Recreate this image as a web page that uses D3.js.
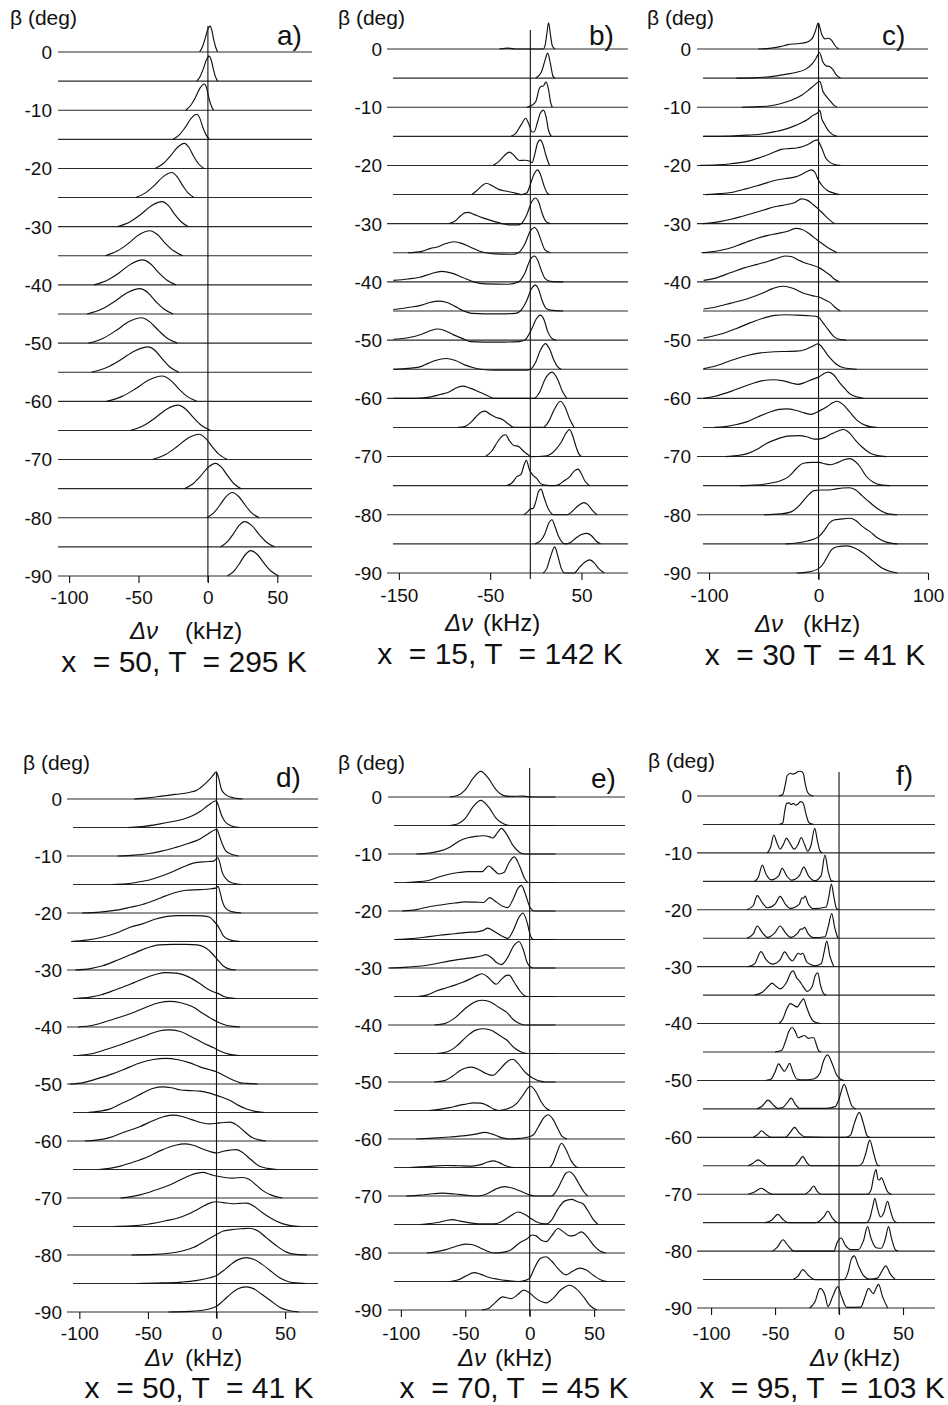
<!DOCTYPE html>
<html><head><meta charset="utf-8">
<script src="https://cdn.jsdelivr.net/npm/d3@7"></script>
<style>
body{margin:0;background:#fff}
svg{display:block}
text{font-family:"Liberation Sans",Arial,Helvetica,sans-serif;fill:#111}
</style></head>
<body><svg id="chart" width="948" height="1405"></svg>
<script>
// ---------------- DATA ----------------
const betas = [0,-5,-10,-15,-20,-25,-30,-35,-40,-45,-50,-55,-60,-65,-70,-75,-80,-85,-90];
const yTickLabels = [0,-10,-20,-30,-40,-50,-60,-70,-80,-90];
const xTicksA = [-100,-50,0,50];
const xTicksB = [-150,-50,50];
const xTicksC = [-100,0,100];
const xTicksDEF = [-100,-50,0,50];
const panelLetters = ["a)","b)","c)","d)","e)","f)"];
const panelTitles = ["x  = 50, T  = 295 K","x  = 15, T  = 142 K","x  = 30 T  = 41 K","x  = 50, T  = 41 K","x  = 70, T  = 45 K","x  = 95, T  = 103 K"];
const axisUnit = "(kHz)";
const axisSym = "Δν";
const yAxisName = "β (deg)";

// each trace: [Δν kHz, height in units of trace spacing]
const specA = [
[[-6,0],[-3.9,0.18],[-2.1,0.44],[-0.3,0.75],[1.5,0.89],[2.8,0.75],[4.1,0.44],[5.5,0.18],[7,0]],
[[-8,0],[-5.5,0.17],[-3.3,0.42],[-1.2,0.72],[1,0.86],[2.4,0.72],[3.9,0.42],[5.3,0.17],[7,0]],
[[-16,0],[-12.2,0.18],[-9,0.44],[-5.7,0.76],[-2.5,0.9],[-0.9,0.76],[0.6,0.44],[2.2,0.18],[4,0]],
[[-25,0],[-20.2,0.17],[-16.2,0.42],[-12.1,0.72],[-8,0.86],[-5.8,0.72],[-3.7,0.42],[-1.5,0.17],[1,0]],
[[-38,0],[-32.1,0.17],[-27.1,0.42],[-22,0.72],[-17,0.86],[-13.6,0.72],[-10.3,0.42],[-6.9,0.17],[-3,0]],
[[-52,0],[-44.7,0.17],[-38.5,0.42],[-32.2,0.72],[-26,0.86],[-22.2,0.72],[-18.3,0.42],[-14.5,0.17],[-10,0]],
[[-65,0],[-56,0.17],[-48.4,0.42],[-40.7,0.72],[-33,0.86],[-28.4,0.72],[-23.9,0.42],[-19.3,0.17],[-14,0]],
[[-74,0],[-65,0.17],[-57.4,0.42],[-49.7,0.72],[-42,0.86],[-36.2,0.72],[-30.5,0.42],[-24.7,0.17],[-18,0]],
[[-82,0],[-72.2,0.17],[-63.8,0.42],[-55.4,0.72],[-47,0.86],[-41.2,0.72],[-35.5,0.42],[-29.7,0.17],[-23,0]],
[[-87,0],[-76.4,0.17],[-67.2,0.43],[-58.1,0.73],[-49,0.87],[-43.2,0.73],[-37.5,0.43],[-31.7,0.17],[-25,0]],
[[-86,0],[-75.4,0.17],[-66.2,0.43],[-57.1,0.73],[-48,0.87],[-41.8,0.73],[-35.5,0.43],[-29.3,0.17],[-22,0]],
[[-84,0],[-72.5,0.17],[-62.7,0.43],[-52.8,0.73],[-43,0.87],[-37.7,0.73],[-32.4,0.43],[-27.2,0.17],[-21,0]],
[[-73,0],[-61.8,0.17],[-52.2,0.43],[-42.6,0.73],[-33,0.87],[-27,0.73],[-21,0.43],[-15,0.17],[-8,0]],
[[-56,0],[-46.3,0.17],[-38,0.43],[-29.8,0.73],[-21.5,0.87],[-15.9,0.73],[-10.2,0.43],[-4.6,0.17],[2,0]],
[[-40,0],[-30.6,0.17],[-22.6,0.43],[-14.5,0.73],[-6.5,0.87],[-1.6,0.73],[3.3,0.43],[8.3,0.17],[14,0]],
[[-17,0],[-10.7,0.17],[-5.3,0.43],[0.1,0.73],[5.5,0.87],[9.9,0.73],[14.4,0.43],[18.8,0.17],[24,0]],
[[-1,0],[4.2,0.17],[8.6,0.43],[13.1,0.73],[17.5,0.87],[22.2,0.73],[26.9,0.43],[31.5,0.17],[37,0]],
[[9,0],[13.9,0.17],[18.1,0.43],[22.3,0.73],[26.5,0.87],[31.7,0.73],[36.8,0.43],[42,0.17],[48,0]],
[[14,0],[18.8,0.17],[22.8,0.43],[26.9,0.73],[31,0.87],[35.8,0.73],[40.6,0.43],[45.4,0.17],[51,0]]
];

const specB = [
[[-40,0],[-30,0.03],[-22,0],[8,0],[10,0.1],[12,0.5],[14,0.9],[16,0.5],[18,0.12],[21,0]],
[[0,0],[6,0.2],[10,0.6],[13,0.86],[16,0.5],[19,0.05],[21,0]],
[[-10,0],[-5,0.05],[0,0.2],[4,0.65],[6,0.72],[8,0.72],[11,0.86],[14,0.6],[16,0.2],[18,0]],
[[-27,0],[-22,0.1],[-16,0.4],[-11,0.62],[-8,0.45],[-4,0.15],[-2,0.15],[2,0.5],[5,0.8],[8.5,0.9],[11,0.7],[14,0.2],[17,0]],
[[-47,0],[-40,0.15],[-34,0.35],[-29,0.46],[-24,0.35],[-18,0.17],[-12,0.18],[-7,0.15],[-4,0.1],[-1,0.4],[2,0.78],[5,0.88],[8,0.7],[11,0.35],[15,0]],
[[-70,0],[-64,0.15],[-58,0.33],[-54,0.39],[-48,0.3],[-40,0.17],[-33,0.12],[-25,0.07],[-16,0],[-10,0.05],[-6,0.35],[-2,0.7],[2,0.85],[5,0.7],[9,0.3],[12,0.08],[15,0]],
[[-95,0],[-88,0.1],[-82,0.28],[-78,0.37],[-74,0.39],[-68,0.32],[-58,0.2],[-46,0.08],[-37,0],[-30,-0.04],[-20,-0.04],[-16,0],[-10,0.3],[-4,0.78],[-0.5,0.88],[3,0.75],[7,0.35],[11,0.08],[16,0]],
[[-140,0],[-125,0.05],[-115,0.15],[-108,0.2],[-100,0.3],[-90,0.38],[-82,0.33],[-72,0.2],[-62,0.06],[-55,0],[-45,-0.04],[-25,-0.05],[-19,0],[-12,0.3],[-6,0.75],[-1.5,0.87],[2,0.75],[6,0.4],[10,0.1],[16,0]],
[[-156,0.05],[-140,0.1],[-127,0.16],[-115,0.28],[-103,0.36],[-92,0.3],[-80,0.15],[-68,0],[-55,-0.07],[-30,-0.08],[-19,0],[-12,0.3],[-6,0.77],[-1.5,0.89],[2,0.75],[6,0.4],[10,0.12],[16,0.02],[30,0]],
[[-156,0.05],[-140,0.12],[-125,0.2],[-115,0.3],[-107,0.34],[-98,0.3],[-88,0.15],[-80,0.02],[-70,-0.08],[-40,-0.1],[-22,-0.08],[-17,0],[-10,0.35],[-5,0.75],[-0.5,0.89],[3,0.75],[7,0.35],[11,0.1],[16,0.03],[30,0]],
[[-156,0.03],[-140,0.08],[-125,0.2],[-115,0.33],[-108,0.38],[-100,0.33],[-90,0.18],[-80,0.05],[-72,-0.05],[-40,-0.07],[-18,-0.05],[-12,0],[-5,0.35],[1,0.75],[5,0.86],[9,0.7],[13,0.3],[17,0.08],[22,0]],
[[-156,0],[-140,0.03],[-127,0.08],[-118,0.2],[-110,0.3],[-98,0.37],[-88,0.3],[-78,0.15],[-68,0.05],[-60,0],[-45,-0.03],[-10,-0.03],[-6,0],[0,0.25],[5,0.65],[10.5,0.88],[15,0.7],[20,0.3],[24,0.08],[28,0]],
[[-156,0],[-130,0],[-115,0.05],[-105,0.13],[-95,0.22],[-86,0.37],[-80,0.42],[-72,0.35],[-62,0.22],[-52,0.08],[-46,0],[-30,0],[-2,0],[4,0.2],[10,0.65],[17.8,0.9],[24,0.65],[29,0.25],[34,0]],
[[-85,0],[-78,0.03],[-72,0.15],[-66,0.35],[-60,0.52],[-55.5,0.56],[-50,0.45],[-44,0.35],[-37,0.28],[-30,0.12],[-24,0],[8,0],[14,0.2],[20,0.6],[27,0.9],[32,0.7],[37,0.3],[42,0]],
[[-55,0],[-48,0.2],[-42,0.5],[-36,0.72],[-33,0.75],[-29,0.55],[-24,0.38],[-19,0.35],[-14,0.2],[-8,0.05],[-5,0],[10,0.02],[16,0.08],[22,0.25],[28,0.5],[33,0.8],[37,0.93],[40,0.75],[44,0.35],[47,0.1],[50,0]],
[[-32,0],[-26,0.1],[-21,0.3],[-16,0.4],[-13,0.7],[-10.4,0.87],[-7,0.55],[-3,0.35],[1,0.25],[5,0.08],[10,0.02],[20,0],[26,0.05],[31,0.17],[37,0.3],[42,0.5],[46.4,0.57],[50,0.4],[54,0.15],[59,0]],
[[-13,0],[-9,0.1],[-6,0.2],[-3,0.22],[0,0.45],[3,0.8],[5.7,0.88],[9,0.6],[13,0.25],[17,0.05],[20,0],[34,0],[40,0.12],[46,0.3],[52.5,0.42],[57,0.35],[62,0.15],[67,0]],
[[-1,0],[5,0.1],[10,0.35],[14,0.7],[17.8,0.83],[21,0.6],[25,0.25],[29,0.05],[32,0],[38,0.05],[44,0.2],[50,0.32],[56,0.36],[61,0.28],[66,0.1],[71,0]],
[[8,0],[12,0.15],[16,0.55],[20.7,0.9],[24,0.6],[28,0.15],[32,0],[42,0],[48,0.2],[54,0.38],[59,0.45],[64,0.35],[69,0.15],[75,0]]
];

const specC = [
[[-55,0],[-45,0.02],[-35,0.08],[-28,0.15],[-20,0.18],[-12,0.22],[-6,0.35],[-3,0.6],[-0.3,0.89],[3,0.5],[6,0.35],[9,0.37],[12,0.3],[15,0.12],[18.5,0]],
[[-75,0],[-60,0.01],[-50,0.03],[-40,0.07],[-30,0.13],[-20,0.2],[-12,0.3],[-6,0.48],[-2,0.7],[0.9,0.88],[4,0.55],[7,0.42],[10,0.4],[13,0.3],[16,0.12],[20,0]],
[[-70,0],[-55,0.02],[-44,0.05],[-35,0.12],[-25,0.24],[-15,0.42],[-10,0.56],[-4,0.75],[1.2,0.89],[4,0.55],[7,0.38],[11,0.2],[14,0.07],[17,0]],
[[-105,0],[-80,0.01],[-65,0.04],[-50,0.09],[-40,0.16],[-31,0.24],[-22,0.36],[-16,0.46],[-10,0.58],[-5,0.72],[-1,0.8],[1.2,0.89],[3,0.6],[5,0.45],[8,0.25],[11,0.12],[14,0.04],[17,0]],
[[-108,0],[-92,0.02],[-80,0.06],[-65,0.14],[-55,0.25],[-44,0.4],[-34,0.55],[-27,0.58],[-20,0.6],[-15,0.64],[-8,0.75],[-4,0.85],[-1.2,0.88],[1,0.75],[3.5,0.55],[6,0.3],[9,0.15],[14,0.04],[20,0]],
[[-103,0],[-90,0.03],[-80,0.07],[-68,0.18],[-56,0.3],[-46,0.42],[-38,0.5],[-30,0.55],[-22,0.6],[-15,0.7],[-10,0.8],[-6.4,0.85],[-3,0.75],[-1,0.56],[3,0.32],[8,0.14],[14,0.05],[19,0]],
[[-106,0],[-100,0.02],[-90,0.07],[-80,0.15],[-71,0.24],[-60,0.36],[-50,0.47],[-40,0.58],[-30,0.65],[-22,0.72],[-15.5,0.85],[-10,0.8],[-5,0.66],[0,0.5],[4,0.35],[8,0.2],[12,0.07],[15,0]],
[[-107,0],[-98,0.03],[-90,0.08],[-83,0.14],[-74,0.25],[-65,0.38],[-56,0.5],[-47,0.59],[-38,0.66],[-28,0.74],[-21,0.84],[-15,0.8],[-10,0.7],[-4,0.52],[0.3,0.4],[5,0.27],[11,0.12],[17,0]],
[[-105,0.05],[-95,0.12],[-80,0.32],[-68,0.48],[-56,0.6],[-45,0.72],[-37,0.82],[-30,0.89],[-25,0.87],[-18,0.74],[-13,0.66],[-6,0.58],[0.3,0.49],[5,0.38],[11,0.22],[15,0.08],[19,0]],
[[-105,0.07],[-95,0.13],[-80,0.27],[-65,0.42],[-52,0.6],[-42,0.77],[-33,0.85],[-25,0.8],[-13,0.6],[-5,0.52],[0.3,0.48],[6,0.38],[11,0.28],[15,0.13],[20,0]],
[[-105,0.07],[-90,0.2],[-75,0.4],[-62,0.6],[-50,0.76],[-40,0.85],[-30,0.87],[-20,0.86],[-10,0.84],[-3,0.82],[0.3,0.78],[4,0.6],[9,0.35],[14,0.12],[20,0.02],[25,0]],
[[-105,0.02],[-95,0.1],[-80,0.3],[-65,0.47],[-53,0.56],[-40,0.6],[-30,0.61],[-20,0.62],[-12,0.68],[-6,0.78],[-0.6,0.87],[4,0.72],[8,0.5],[11,0.37],[16,0.18],[23,0.05],[35,0]],
[[-105,0],[-95,0.07],[-80,0.24],[-65,0.45],[-52,0.6],[-41,0.64],[-32,0.6],[-24,0.52],[-19,0.48],[-12,0.55],[-5,0.66],[0.3,0.73],[5,0.85],[9.4,0.9],[14,0.8],[19,0.55],[23,0.38],[30,0.12],[41,0]],
[[-95,0],[-85,0.03],[-75,0.1],[-65,0.2],[-55,0.37],[-45,0.52],[-36,0.62],[-29,0.64],[-20,0.58],[-13,0.5],[-7,0.45],[0.3,0.56],[8,0.72],[13,0.85],[17,0.9],[22,0.8],[28,0.55],[35,0.25],[43,0.07],[53,0]],
[[-85,0],[-75,0.03],[-65,0.1],[-56,0.25],[-48,0.44],[-38,0.6],[-28,0.7],[-18,0.72],[-10,0.67],[-4,0.6],[0,0.6],[6,0.66],[12,0.78],[18,0.88],[23,0.93],[28,0.82],[34,0.55],[40,0.32],[47,0.12],[54,0.03],[62,0]],
[[-72,0],[-60,0.02],[-50,0.05],[-42,0.1],[-34,0.18],[-27,0.32],[-20,0.6],[-14,0.77],[-6,0.8],[0.3,0.8],[6,0.75],[11,0.72],[18,0.8],[24,0.9],[28.6,0.93],[33,0.85],[38,0.65],[43,0.35],[50,0.12],[58,0.02],[65,0]],
[[-50,0],[-35,0.03],[-25,0.1],[-18,0.3],[-10,0.65],[-4,0.83],[2,0.85],[8,0.85],[15,0.88],[22,0.92],[28,0.93],[34,0.85],[40,0.65],[47,0.42],[55,0.18],[62,0.05],[72,0]],
[[-30,0],[-20,0.03],[-10,0.1],[0.3,0.25],[5,0.45],[10,0.72],[14,0.82],[20,0.85],[28.6,0.88],[34,0.8],[40,0.6],[47,0.42],[54,0.2],[62,0.06],[72,0]],
[[-20,0],[-10,0.03],[0,0.15],[4,0.3],[8,0.56],[12,0.8],[17,0.9],[26,0.93],[33,0.86],[41,0.68],[50,0.4],[58,0.17],[65,0.06],[72,0]]
];

const specD = [
[[-60,0],[-50,0.04],[-40,0.1],[-30,0.16],[-20,0.23],[-14,0.32],[-8,0.55],[-3,0.8],[-0.2,0.95],[1.5,0.75],[3.5,0.35],[6,0.18],[10,0.07],[19,0]],
[[-65,0],[-55,0.03],[-42,0.12],[-33,0.2],[-25,0.28],[-18,0.4],[-12,0.56],[-6,0.78],[-0.2,0.94],[1.5,0.75],[3.5,0.45],[6,0.22],[10,0.07],[17,0]],
[[-72,0],[-60,0.03],[-50,0.08],[-40,0.17],[-30,0.3],[-20,0.45],[-12,0.6],[-6,0.78],[0.3,0.94],[2,0.72],[4,0.45],[6.5,0.2],[10,0.08],[16,0]],
[[-76,0],[-66,0.02],[-58,0.08],[-49,0.16],[-40,0.3],[-32,0.45],[-24,0.62],[-17,0.75],[-8,0.8],[-2,0.82],[1,0.94],[2.5,0.75],[4,0.45],[7,0.2],[11,0.06],[18,0]],
[[-98,0],[-85,0.03],[-73,0.1],[-63,0.2],[-54,0.3],[-45,0.45],[-37,0.6],[-30,0.72],[-22,0.8],[-12,0.82],[-4,0.85],[0,0.88],[1,0.94],[2.5,0.75],[4,0.45],[7,0.15],[11,0.05],[18,0]],
[[-106,0],[-95,0.05],[-85,0.13],[-73,0.3],[-63,0.5],[-54,0.62],[-45,0.78],[-36,0.88],[-28,0.91],[-18,0.91],[-10,0.9],[-5,0.85],[-2,0.72],[1,0.55],[3,0.38],[5,0.2],[9,0.07],[17,0]],
[[-103,0],[-92,0.05],[-83,0.15],[-72,0.35],[-62,0.55],[-52,0.75],[-42,0.88],[-32,0.9],[-22,0.9],[-14,0.88],[-8,0.78],[-3,0.57],[1,0.35],[5,0.14],[9,0.04],[14,0]],
[[-103,0],[-92,0.05],[-84,0.13],[-74,0.3],[-63,0.5],[-52,0.72],[-44,0.85],[-37,0.91],[-28,0.88],[-20,0.75],[-13,0.55],[-7,0.35],[-2,0.23],[1,0.18],[5,0.08],[9,0.02],[14,0]],
[[-101,0],[-90,0.06],[-80,0.2],[-70,0.35],[-60,0.52],[-50,0.72],[-42,0.85],[-34,0.9],[-26,0.85],[-17,0.7],[-10,0.48],[-3,0.27],[2,0.15],[7,0.06],[12,0.02],[17,0]],
[[-101,0],[-90,0.07],[-80,0.22],[-70,0.38],[-60,0.55],[-50,0.73],[-42,0.86],[-35,0.9],[-27,0.85],[-18,0.65],[-10,0.45],[-2,0.27],[3,0.15],[9,0.05],[17,0]],
[[-107,0],[-97,0.05],[-88,0.17],[-78,0.32],[-68,0.5],[-57,0.72],[-46,0.86],[-37,0.9],[-28,0.85],[-20,0.75],[-12,0.6],[-5,0.5],[0,0.43],[6,0.28],[12,0.14],[17,0.05],[22,0.02],[30,0]],
[[-94,0],[-85,0.05],[-78,0.12],[-70,0.3],[-62,0.47],[-54,0.68],[-46,0.85],[-39,0.9],[-33,0.87],[-27,0.8],[-20,0.77],[-12,0.75],[-5,0.68],[0,0.6],[5,0.52],[10,0.42],[16,0.25],[22,0.12],[28,0.04],[35,0]],
[[-96,0],[-88,0.03],[-78,0.12],[-68,0.3],[-56,0.5],[-46,0.72],[-38,0.86],[-32,0.91],[-25,0.86],[-18,0.75],[-10,0.63],[-5,0.6],[0,0.62],[5,0.65],[10,0.66],[15,0.55],[20,0.35],[26,0.12],[31,0.04],[36,0]],
[[-86,0],[-78,0.04],[-70,0.12],[-60,0.27],[-50,0.45],[-40,0.68],[-30,0.85],[-23.4,0.9],[-17,0.85],[-10,0.72],[-4,0.62],[0,0.58],[5,0.64],[10,0.68],[14.4,0.7],[19,0.6],[25,0.35],[31,0.12],[37,0.04],[44,0]],
[[-70,0],[-62,0.05],[-55,0.12],[-45,0.27],[-36,0.42],[-27,0.62],[-19,0.8],[-10,0.9],[-4,0.82],[0,0.77],[6,0.72],[12,0.7],[19,0.72],[24,0.65],[29,0.45],[34,0.25],[40,0.1],[48,0]],
[[-75,0],[-62,0.02],[-50,0.08],[-37,0.2],[-28,0.3],[-20,0.45],[-12,0.65],[-5,0.82],[-0.2,0.87],[5,0.84],[12,0.8],[17,0.81],[22,0.82],[27,0.72],[33,0.5],[40,0.28],[48,0.1],[54,0.03],[61,0]],
[[-62,0],[-45,0.02],[-35,0.06],[-25,0.14],[-17,0.26],[-8,0.5],[0,0.72],[5,0.84],[10,0.88],[18,0.92],[24,0.94],[30,0.85],[36,0.62],[43,0.35],[51,0.1],[58,0.02],[66,0]],
[[-58,0],[-40,0.02],[-25,0.05],[-15,0.1],[-5,0.2],[0,0.28],[5,0.45],[10,0.65],[15,0.82],[21.7,0.91],[27,0.85],[33,0.68],[40,0.42],[46,0.2],[52,0.07],[58,0.02],[65,0]],
[[-35,0],[-20,0.02],[-10,0.06],[-3,0.14],[0,0.2],[5,0.4],[10,0.62],[15,0.8],[21.7,0.88],[27,0.82],[33,0.62],[40,0.38],[46,0.17],[52,0.06],[60,0]]
];

const specE = [
[[-62,0],[-56,0.05],[-50,0.25],[-44,0.65],[-38,0.9],[-32,0.65],[-26,0.25],[-20,0.05],[-15,0.02],[-5,0.03],[2,0],[20,0]],
[[-62,0],[-56,0.05],[-50,0.25],[-44,0.65],[-38,0.88],[-32,0.65],[-26,0.25],[-20,0.05],[-15,0],[20,0]],
[[-88,0],[-78,0.03],[-70,0.1],[-62,0.24],[-55,0.45],[-48,0.57],[-42,0.62],[-36,0.64],[-31,0.6],[-28.6,0.56],[-25,0.75],[-22,0.9],[-18,0.7],[-13,0.3],[-8,0.06],[-4,0],[20,0]],
[[-96,0],[-86,0.03],[-78,0.08],[-70,0.2],[-62,0.3],[-55,0.35],[-48,0.38],[-41,0.38],[-37,0.38],[-32,0.58],[-28,0.45],[-24,0.3],[-20,0.35],[-16,0.7],[-12,0.9],[-8,0.6],[-4,0.15],[-1,0],[20,0]],
[[-99,0],[-88,0.05],[-78,0.15],[-68,0.22],[-58,0.28],[-50,0.32],[-42,0.31],[-36,0.3],[-31,0.47],[-27,0.35],[-21,0.17],[-17,0.12],[-13,0.4],[-9,0.8],[-6.5,0.9],[-3,0.55],[0,0.15],[4,0],[20,0]],
[[-104,0],[-92,0.03],[-82,0.08],[-70,0.15],[-58,0.2],[-48,0.25],[-41,0.27],[-36,0.32],[-32.6,0.4],[-28,0.3],[-22,0.13],[-17,0.04],[-13,0.3],[-8,0.8],[-5.2,0.93],[-2,0.6],[0.5,0.15],[3,0],[20,0]],
[[-109,0],[-95,0.03],[-86,0.06],[-75,0.13],[-62,0.25],[-50,0.33],[-42,0.38],[-37,0.43],[-34,0.47],[-30,0.38],[-26,0.2],[-22,0.12],[-18,0.3],[-12,0.8],[-8.3,0.93],[-5,0.65],[-2,0.2],[0,0.05],[3,0],[20,0]],
[[-87,0],[-80,0.05],[-72,0.2],[-65,0.3],[-58,0.4],[-52,0.5],[-46,0.62],[-40,0.75],[-37,0.8],[-33,0.7],[-29,0.52],[-26,0.43],[-22,0.6],[-18,0.74],[-16,0.75],[-12,0.5],[-8,0.22],[-4,0.03],[-2,0],[20,0]],
[[-74,0],[-66,0.05],[-58,0.25],[-50,0.58],[-42,0.82],[-36.5,0.87],[-30,0.8],[-24,0.62],[-18,0.45],[-13,0.2],[-8,0.05],[-4,0],[20,0]],
[[-72,0],[-64,0.06],[-57,0.25],[-50,0.55],[-42,0.82],[-35.7,0.87],[-29,0.8],[-23,0.62],[-18,0.48],[-12,0.2],[-7,0.06],[-2,0],[20,0]],
[[-74,0],[-66,0.05],[-60,0.2],[-54,0.4],[-49,0.5],[-45.5,0.52],[-40,0.45],[-35,0.32],[-29,0.23],[-24,0.4],[-19,0.65],[-15,0.78],[-13,0.8],[-9,0.65],[-5,0.42],[-2,0.28],[3,0.12],[8,0.03],[12,0],[20,0]],
[[-78,0],[-70,0.04],[-62,0.1],[-55,0.18],[-49,0.23],[-44,0.27],[-38,0.26],[-33,0.18],[-28,0.05],[-24,0],[-18,0.05],[-10,0.25],[-5,0.55],[0.5,0.85],[5,0.65],[9,0.3],[13,0.07],[16,0]],
[[-88,0],[-75,0.03],[-62,0.07],[-50,0.12],[-42,0.17],[-35,0.23],[-29,0.17],[-22,0.05],[-15,0],[-8,0.02],[-2,0.06],[3,0.15],[7,0.45],[11,0.75],[14.3,0.85],[18,0.7],[22,0.35],[25,0.1],[29,0]],
[[-93,0],[-85,0.02],[-75,0.05],[-65,0.07],[-55,0.06],[-45,0.05],[-38,0.1],[-32,0.2],[-28.6,0.23],[-24,0.18],[-18,0.05],[-12,0],[15,0],[18,0.15],[21,0.5],[24.7,0.85],[28,0.65],[32,0.25],[36,0.03],[38,0]],
[[-96,0],[-85,0.03],[-75,0.08],[-68,0.1],[-58,0.07],[-48,0.02],[-40,0],[-33,0.08],[-26,0.25],[-19.5,0.33],[-13,0.27],[-6,0.15],[0,0.04],[4,0],[17,0],[21,0.2],[25,0.55],[28,0.8],[30.7,0.85],[34,0.75],[38,0.45],[42,0.15],[45,0]],
[[-85,0],[-78,0.03],[-70,0.08],[-64,0.15],[-60,0.17],[-54,0.12],[-45,0.05],[-36,0.02],[-28,0.02],[-22,0.1],[-15,0.3],[-9,0.44],[-4,0.36],[0,0.24],[5,0.1],[10,0.03],[13,0.02],[17,0.15],[22,0.55],[27,0.82],[32.6,0.88],[37,0.8],[41.6,0.72],[45,0.5],[49,0.2],[53,0]],
[[-80,0],[-72,0.05],[-65,0.12],[-58,0.22],[-50,0.31],[-45,0.3],[-38,0.17],[-32,0.05],[-28,0],[-20,0.03],[-15,0.1],[-8,0.35],[-2,0.5],[2,0.63],[5,0.6],[9,0.45],[13,0.4],[17,0.6],[22,0.86],[26,0.75],[31,0.6],[35,0.62],[40,0.74],[45,0.55],[50,0.25],[55,0.06],[59,0]],
[[-62,0],[-56,0.05],[-50,0.18],[-43,0.31],[-38,0.25],[-32,0.15],[-25,0.08],[-17,0.03],[-9,0],[-4,0.03],[0,0.12],[4,0.5],[8,0.8],[12.5,0.87],[17,0.72],[22,0.45],[28,0.23],[33,0.35],[39,0.47],[44,0.4],[50,0.2],[55,0.06],[60,0]],
[[-37,0],[-32,0.05],[-27,0.25],[-21,0.46],[-17,0.42],[-14,0.4],[-9,0.55],[-4.7,0.7],[0,0.6],[5,0.4],[10,0.28],[13,0.25],[18,0.4],[24,0.7],[31,0.87],[36,0.75],[42,0.45],[47,0.15],[52,0]]
];

const specF = [
[[-47,0],[-44,0.05],[-42,0.4],[-40.5,0.72],[-38,0.8],[-36,0.77],[-34,0.8],[-32,0.86],[-30,0.87],[-28,0.8],[-26.5,0.45],[-24.5,0.12],[-22,0.02],[-20,0]],
[[-47,0],[-44,0.05],[-42.5,0.45],[-41,0.74],[-39,0.76],[-37.5,0.7],[-35.5,0.74],[-34,0.68],[-32,0.72],[-30,0.8],[-28,0.75],[-26,0.4],[-24,0.1],[-22,0.02],[-20,0]],
[[-56,0],[-53.5,0.2],[-51,0.63],[-48.5,0.35],[-46,0.13],[-43.5,0.3],[-41,0.52],[-38.5,0.35],[-35,0.13],[-32,0.3],[-29.5,0.54],[-27,0.3],[-24.5,0.06],[-22,0.25],[-19,0.86],[-17,0.45],[-15,0.08],[-13,0]],
[[-66,0],[-63,0.15],[-60,0.57],[-57,0.25],[-53,0.05],[-47,0.2],[-44.5,0.46],[-41,0.2],[-37,0.04],[-31,0.2],[-27.5,0.5],[-24,0.2],[-19,0.02],[-14,0.2],[-11,0.92],[-8.5,0.35],[-6,0.02],[-4,0]],
[[-72,0],[-67,0.15],[-64,0.5],[-60,0.25],[-56,0.07],[-50,0.2],[-46,0.47],[-42,0.2],[-38,0.05],[-31,0.2],[-29,0.42],[-28,0.4],[-26.5,0.48],[-24,0.2],[-20,0.04],[-10,0.1],[-8,0.45],[-6,0.9],[-4,0.45],[-2,0.05],[0,0]],
[[-72,0],[-67,0.15],[-64,0.43],[-60,0.2],[-56,0.03],[-50,0.2],[-46,0.43],[-42,0.2],[-38,0.03],[-32,0.2],[-30,0.32],[-28.5,0.32],[-27,0.38],[-24,0.15],[-20,0.02],[-11,0.05],[-8.5,0.4],[-5.7,0.87],[-3.5,0.4],[-1,0]],
[[-71,0],[-66,0.1],[-61,0.53],[-57,0.25],[-52,0.09],[-46,0.25],[-42.5,0.52],[-39,0.3],[-36.5,0.2],[-34,0.35],[-32,0.47],[-30,0.43],[-28.5,0.47],[-25,0.15],[-19,0.03],[-14,0.1],[-11.5,0.55],[-9.6,0.9],[-7,0.35],[-4,0]],
[[-66,0],[-60,0.1],[-55,0.32],[-52.4,0.42],[-49,0.3],[-46,0.22],[-41,0.45],[-37.5,0.8],[-36,0.85],[-33,0.6],[-31,0.5],[-28,0.3],[-25,0.13],[-21,0.3],[-18.5,0.7],[-16.6,0.78],[-14.5,0.35],[-12,0.05],[-10,0]],
[[-47,0],[-44,0.15],[-41,0.5],[-38,0.7],[-35,0.63],[-32.7,0.58],[-30,0.75],[-27.7,0.87],[-25.5,0.6],[-23,0.3],[-20,0.08],[-17,0.03],[-14,0]],
[[-50,0],[-45,0.05],[-42,0.35],[-39,0.75],[-36.6,0.86],[-34,0.7],[-32,0.5],[-29,0.55],[-27,0.58],[-24,0.48],[-21.5,0.5],[-19.7,0.5],[-18,0.3],[-16,0.05],[-14,0]],
[[-57,0],[-53,0.05],[-50,0.3],[-47.2,0.58],[-45,0.45],[-42.8,0.32],[-41,0.42],[-38.7,0.6],[-36,0.3],[-33,0.05],[-28,0.02],[-20,0.05],[-15,0.25],[-12,0.7],[-9,0.9],[-5,0.55],[-2,0.2],[1,0.05],[4,0]],
[[-64,0],[-60,0.1],[-55.5,0.31],[-51,0.12],[-48,0.02],[-44,0.05],[-40,0.25],[-37.4,0.38],[-34,0.15],[-31,0.02],[-10,0.02],[-3,0.08],[0,0.35],[4,0.86],[7,0.5],[10,0.1],[13,0]],
[[-67,0],[-63,0.12],[-60.7,0.23],[-57,0.1],[-53,0],[-42,0],[-38,0.18],[-34.8,0.35],[-31,0.15],[-27,0.02],[5,0],[9,0.08],[12,0.5],[15.8,0.88],[19,0.5],[22,0.05],[24,0]],
[[-71,0],[-67,0.1],[-63.3,0.21],[-59,0.08],[-56,0],[-35,0],[-32,0.12],[-28.3,0.32],[-25,0.1],[-22,0],[15,0],[18,0.08],[21,0.45],[24,0.9],[27,0.45],[30,0.03],[32,0]],
[[-71,0],[-66,0.08],[-60.7,0.21],[-56,0.08],[-52,0],[-27,0],[-23,0.12],[-19.7,0.29],[-17,0.1],[-14,0],[22,0],[25,0.15],[27,0.6],[28.8,0.87],[30.5,0.52],[31.5,0.5],[33.2,0.58],[35.5,0.35],[38,0.08],[41,0]],
[[-58,0],[-53,0.08],[-47.7,0.29],[-44,0.12],[-40,0],[-18,0],[-12,0.2],[-8.8,0.4],[-5,0.15],[-1,0],[21,0],[24,0.15],[26.5,0.6],[28,0.86],[30,0.5],[32.5,0.2],[35,0.35],[37.9,0.75],[40,0.45],[42.5,0.1],[45,0]],
[[-52,0],[-48,0.15],[-43.8,0.4],[-40,0.2],[-35,0],[-4,0],[-1.5,0.3],[1.6,0.46],[5,0.2],[9,0.05],[15,0.05],[19,0.35],[22.3,0.86],[25,0.45],[29,0.12],[33,0.1],[36,0.4],[38.7,0.86],[41,0.45],[44,0.05],[46,0]],
[[-36,0],[-32,0.12],[-28.3,0.35],[-24,0.15],[-19,0],[4,0],[7,0.25],[9.5,0.7],[11.9,0.83],[15,0.5],[19,0.15],[24,0.02],[30,0.05],[33,0.25],[36.6,0.48],[40,0.2],[44,0]],
[[-23,0],[-19,0.2],[-14.8,0.69],[-11,0.45],[-8.6,0.05],[-5,0.4],[-1,0.75],[2,0.4],[6,0.02],[17,0.03],[20,0.35],[23.1,0.69],[26.8,0.5],[28.5,0.65],[30.9,0.83],[34,0.4],[38,0]]
];

// ---------------- LAYOUT ----------------
const svg = d3.select("#chart");
const panels = [
 {spec:specA, ticks:xTicksA, dom:[-108,75],  rng:[58,312],  top:52,  bot:576,  odd:0, vline:0,  vtop:26,  labY:597,  ypad:6, beta:[10,17],  letter:[277,35],  dnu:[130,185,630],  title:[184,661]},
 {spec:specB, ticks:xTicksB, dom:[-163,101], rng:[387,628], top:49,  bot:573,  odd:6, vline:-6, vtop:30,  labY:595,  ypad:5, beta:[338,17], letter:[589,35],  dnu:[445,483,622],  title:[500,653]},
 {spec:specC, ticks:xTicksC, dom:[-111,100], rng:[697,928], top:49,  bot:573,  odd:6, vline:0,  vtop:23,  labY:595,  ypad:6, beta:[647,17], letter:[882,35],  dnu:[755,803,623],  title:[815,654]},
 {spec:specD, ticks:xTicksDEF, dom:[-109,74], rng:[67,318], top:799, bot:1312, odd:6, vline:0,  vtop:772, labY:1333, ypad:5, beta:[23,762], letter:[276,777], dnu:[145,185,1357.5], title:[199,1387.5]},
 {spec:specE, ticks:xTicksDEF, dom:[-110,74], rng:[388,625],top:797, bot:1310, odd:6, vline:0,  vtop:768, labY:1333, ypad:6, beta:[338,762],letter:[591,778], dnu:[458,495,1357.5], title:[514,1387.5]},
 {spec:specF, ticks:xTicksDEF, dom:[-111,75], rng:[697,935],top:796, bot:1308, odd:6, vline:0,  vtop:772, labY:1333, ypad:5, beta:[648,760],letter:[896,775], dnu:[810,843,1357.5], title:[822,1387.5]}
];

panels.forEach((p, pi) => {
  const g = svg.append("g");
  const x = d3.scaleLinear().domain(p.dom).range(p.rng);
  const y = d3.scaleLinear().domain([0,-90]).range([p.top, p.bot]);
  const line = d3.line().x(d => x(d[0])).y(d => y(d[1])).curve(d3.curveMonotoneX);

  // baselines
  betas.forEach((b, i) => {
    const x0 = p.rng[0] + (i % 2 ? p.odd : 0);
    g.append("line").attr("x1", x0).attr("x2", p.rng[1]).attr("y1", y(b)).attr("y2", y(b))
      .attr("stroke", "#2a2a2a").attr("stroke-width", 1.1);
  });
  // vertical reference line
  g.append("line").attr("x1", x(p.vline)).attr("x2", x(p.vline)).attr("y1", p.vtop).attr("y2", p.bot + 6)
    .attr("stroke", "#111").attr("stroke-width", 1.1);
  // spectra
  betas.forEach((b, i) => {
    const pts = p.spec[i].map(d => [d[0], b + 5 * d[1]]);
    g.append("path").attr("d", line(pts)).attr("fill", "none")
      .attr("stroke", "#111").attr("stroke-width", 1.15).attr("stroke-linejoin", "round");
  });
  // x axis
  const pad = p.labY - p.bot - 6.8 - 7;
  const ax = g.append("g").attr("transform", `translate(0,${p.bot})`)
    .call(d3.axisBottom(x).tickValues(p.ticks).tickSize(7).tickPadding(pad).tickFormat(d => String(d)));
  ax.select(".domain").remove();
  ax.selectAll("line").attr("stroke", "#111").attr("stroke-width", 1.1);
  ax.selectAll("text").attr("font-size", 19).attr("fill", "#111")
    .attr("font-family", '"Liberation Sans", Arial, sans-serif');
  // y labels
  yTickLabels.forEach(v => {
    g.append("text").attr("x", p.rng[0] - p.ypad).attr("y", y(v)).attr("dy", "0.36em")
      .attr("text-anchor", "end").attr("font-size", 19).text(String(v));
  });
  // beta label
  g.append("text").attr("x", p.beta[0]).attr("y", p.beta[1]).attr("dy", "0.36em")
    .attr("font-size", 21).text(yAxisName);
  // panel letter
  g.append("text").attr("x", p.letter[0]).attr("y", p.letter[1]).attr("dy", "0.36em")
    .attr("font-size", 28).text(panelLetters[pi]);
  // Δν (kHz)
  g.append("text").attr("x", p.dnu[0]).attr("y", p.dnu[2]).attr("dy", "0.36em")
    .attr("font-size", 24).attr("font-style", "italic")
    .attr("font-family", '"Liberation Serif", "Times New Roman", serif').text(axisSym);
  g.append("text").attr("x", p.dnu[1]).attr("y", p.dnu[2]).attr("dy", "0.36em")
    .attr("font-size", 24).text(axisUnit);
  // title
  g.append("text").attr("x", p.title[0]).attr("y", p.title[1]).attr("dy", "0.36em")
    .attr("text-anchor", "middle").attr("font-size", 30).style("white-space", "pre").text(panelTitles[pi]);
});
</script></body></html>
